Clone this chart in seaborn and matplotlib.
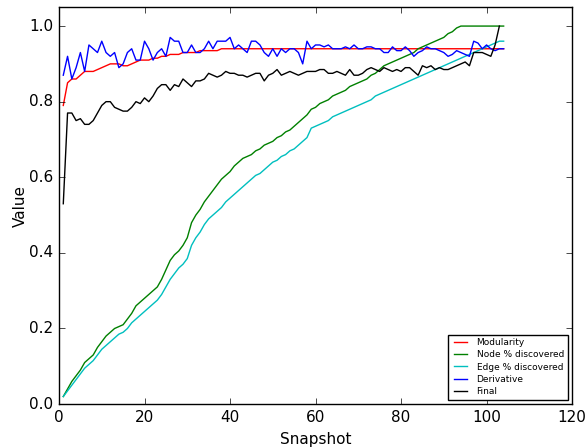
import matplotlib
matplotlib.use("Agg")
import matplotlib.pyplot as plt
import seaborn as sns
import pandas as pd

snapshots = list(range(1, 105))

modularity = [0.79, 0.85, 0.86, 0.86, 0.87, 0.88, 0.88, 0.88, 0.885, 0.89,
              0.895, 0.90, 0.90, 0.90, 0.895, 0.895, 0.90, 0.905, 0.91, 0.91,
              0.91, 0.915, 0.915, 0.92, 0.92, 0.925, 0.925, 0.925, 0.93, 0.93,
              0.93, 0.93, 0.935, 0.935, 0.935, 0.935, 0.935, 0.94, 0.94, 0.94,
              0.94, 0.94, 0.94, 0.94, 0.94, 0.94, 0.94, 0.94, 0.94, 0.94,
              0.94, 0.94, 0.94, 0.94, 0.94, 0.94, 0.94, 0.94, 0.94, 0.94,
              0.94, 0.94, 0.94, 0.94, 0.94, 0.94, 0.94, 0.94, 0.94, 0.94,
              0.94, 0.94, 0.94, 0.94, 0.94, 0.94, 0.94, 0.94, 0.94, 0.94,
              0.94, 0.94, 0.94, 0.94, 0.94, 0.94, 0.94, 0.94, 0.94, 0.94,
              0.94, 0.94, 0.94, 0.94, 0.94, 0.94, 0.94, 0.94, 0.94, 0.94,
              0.94, 0.94, 0.94, 0.94]

node_pct = [0.02, 0.04, 0.06, 0.075, 0.09, 0.11, 0.12, 0.13, 0.15, 0.165,
            0.18, 0.19, 0.20, 0.205, 0.21, 0.225, 0.24, 0.26, 0.27, 0.28,
            0.29, 0.30, 0.31, 0.33, 0.355, 0.38, 0.395, 0.405, 0.42, 0.44,
            0.48, 0.50, 0.515, 0.535, 0.55, 0.565, 0.58, 0.595, 0.605, 0.615,
            0.63, 0.64, 0.65, 0.655, 0.66, 0.67, 0.675, 0.685, 0.69, 0.695,
            0.705, 0.71, 0.72, 0.725, 0.735, 0.745, 0.755, 0.765, 0.78, 0.785,
            0.795, 0.80, 0.805, 0.815, 0.82, 0.825, 0.83, 0.84, 0.845, 0.85,
            0.855, 0.86, 0.87, 0.875, 0.885, 0.895, 0.90, 0.905, 0.91, 0.915,
            0.92, 0.925, 0.93, 0.94, 0.945, 0.95, 0.955, 0.96, 0.965, 0.97,
            0.98, 0.985, 0.995, 1.0, 1.0, 1.0, 1.0, 1.0, 1.0, 1.0,
            1.0, 1.0, 1.0, 1.0]

edge_pct = [0.02, 0.035, 0.05, 0.065, 0.08, 0.095, 0.105, 0.115, 0.13, 0.145,
            0.155, 0.165, 0.175, 0.185, 0.19, 0.20, 0.215, 0.225, 0.235, 0.245,
            0.255, 0.265, 0.275, 0.29, 0.31, 0.33, 0.345, 0.36, 0.37, 0.385,
            0.42, 0.44, 0.455, 0.475, 0.49, 0.50, 0.51, 0.52, 0.535, 0.545,
            0.555, 0.565, 0.575, 0.585, 0.595, 0.605, 0.61, 0.62, 0.63, 0.64,
            0.645, 0.655, 0.66, 0.67, 0.675, 0.685, 0.695, 0.705, 0.73, 0.735,
            0.74, 0.745, 0.75, 0.76, 0.765, 0.77, 0.775, 0.78, 0.785, 0.79,
            0.795, 0.80, 0.805, 0.815, 0.82, 0.825, 0.83, 0.835, 0.84, 0.845,
            0.85, 0.855, 0.86, 0.865, 0.87, 0.875, 0.88, 0.885, 0.89, 0.895,
            0.90, 0.905, 0.91, 0.915, 0.92, 0.925, 0.93, 0.935, 0.94, 0.945,
            0.95, 0.955, 0.96, 0.96]

derivative = [0.87, 0.92, 0.86, 0.89, 0.93, 0.88, 0.95, 0.94, 0.93, 0.96,
              0.93, 0.92, 0.93, 0.89, 0.90, 0.93, 0.94, 0.91, 0.91, 0.96,
              0.94, 0.91, 0.93, 0.94, 0.92, 0.97, 0.96, 0.96, 0.93, 0.93,
              0.95, 0.93, 0.93, 0.94, 0.96, 0.94, 0.96, 0.96, 0.96, 0.97,
              0.94, 0.95, 0.94, 0.93, 0.96, 0.96, 0.95, 0.93, 0.92, 0.94,
              0.92, 0.94, 0.93, 0.94, 0.94, 0.93, 0.90, 0.96, 0.94, 0.95,
              0.95, 0.945, 0.95, 0.94, 0.94, 0.94, 0.945, 0.94, 0.95, 0.94,
              0.94, 0.945, 0.945, 0.94, 0.94, 0.93, 0.93, 0.945, 0.935, 0.935,
              0.945, 0.935, 0.92, 0.93, 0.935, 0.945, 0.94, 0.94, 0.935, 0.93,
              0.92, 0.925, 0.935, 0.93, 0.925, 0.92, 0.96, 0.955, 0.94, 0.95,
              0.94, 0.935, 0.94, 0.94]

final = [0.53, 0.77, 0.77, 0.75, 0.755, 0.74, 0.74, 0.75, 0.77, 0.79,
         0.80, 0.80, 0.785, 0.78, 0.775, 0.775, 0.785, 0.80, 0.795, 0.81,
         0.80, 0.815, 0.835, 0.845, 0.845, 0.83, 0.845, 0.84, 0.86, 0.85,
         0.84, 0.855, 0.855, 0.86, 0.875, 0.87, 0.865, 0.87, 0.88, 0.875,
         0.875, 0.87, 0.87, 0.865, 0.87, 0.875, 0.875, 0.855, 0.87, 0.875,
         0.885, 0.87, 0.875, 0.88, 0.875, 0.87, 0.875, 0.88, 0.88, 0.88,
         0.885, 0.885, 0.875, 0.875, 0.88, 0.875, 0.87, 0.885, 0.87, 0.87,
         0.875, 0.885, 0.89, 0.885, 0.88, 0.89, 0.885, 0.88, 0.885, 0.88,
         0.89, 0.89, 0.88, 0.87, 0.895, 0.89, 0.895, 0.885, 0.89, 0.885,
         0.885, 0.89, 0.895, 0.90, 0.905, 0.895, 0.93, 0.93, 0.93, 0.925,
         0.92, 0.95, 1.0]

series_names = ["Modularity", "Node % discovered", "Edge % discovered", "Derivative", "Final"]
series_values = [modularity, node_pct, edge_pct, derivative, final]
colors = ["#ff0000", "#008000", "#00bfbf", "#0000ff", "#000000"]

plt.style.use("classic")
plt.rcParams["font.family"] = ["DejaVu Sans"]

fig = plt.figure(figsize=(5.86, 4.48), dpi=100, facecolor="white")
ax = fig.add_axes([0.1007, 0.098, 0.8755, 0.886])
ax.set_facecolor("white")

for name, vals, col in zip(series_names, series_values, colors):
    df = pd.DataFrame({"Snapshot": snapshots[:len(vals)], "Value": vals})
    sns.lineplot(data=df, x="Snapshot", y="Value", ax=ax, color=col,
                 linewidth=1.0, label=name, estimator=None)

ax.set_xlim(0, 120)
ax.set_ylim(0, 1.05)
ax.set_xticks([0, 20, 40, 60, 80, 100, 120])
ax.set_yticks([0.0, 0.2, 0.4, 0.6, 0.8, 1.0])
ax.set_xlabel("Snapshot", fontsize=11)
ax.set_ylabel("Value", fontsize=11, labelpad=1)
ax.tick_params(labelsize=11)
leg = ax.legend(loc="lower right", fontsize=6.5, frameon=True, fancybox=False,
                labelspacing=0.35, handlelength=2.0, borderpad=0.4,
                borderaxespad=0.5)
leg.get_frame().set_edgecolor("black")

fig.savefig("out.png", dpi=100, facecolor="white")
